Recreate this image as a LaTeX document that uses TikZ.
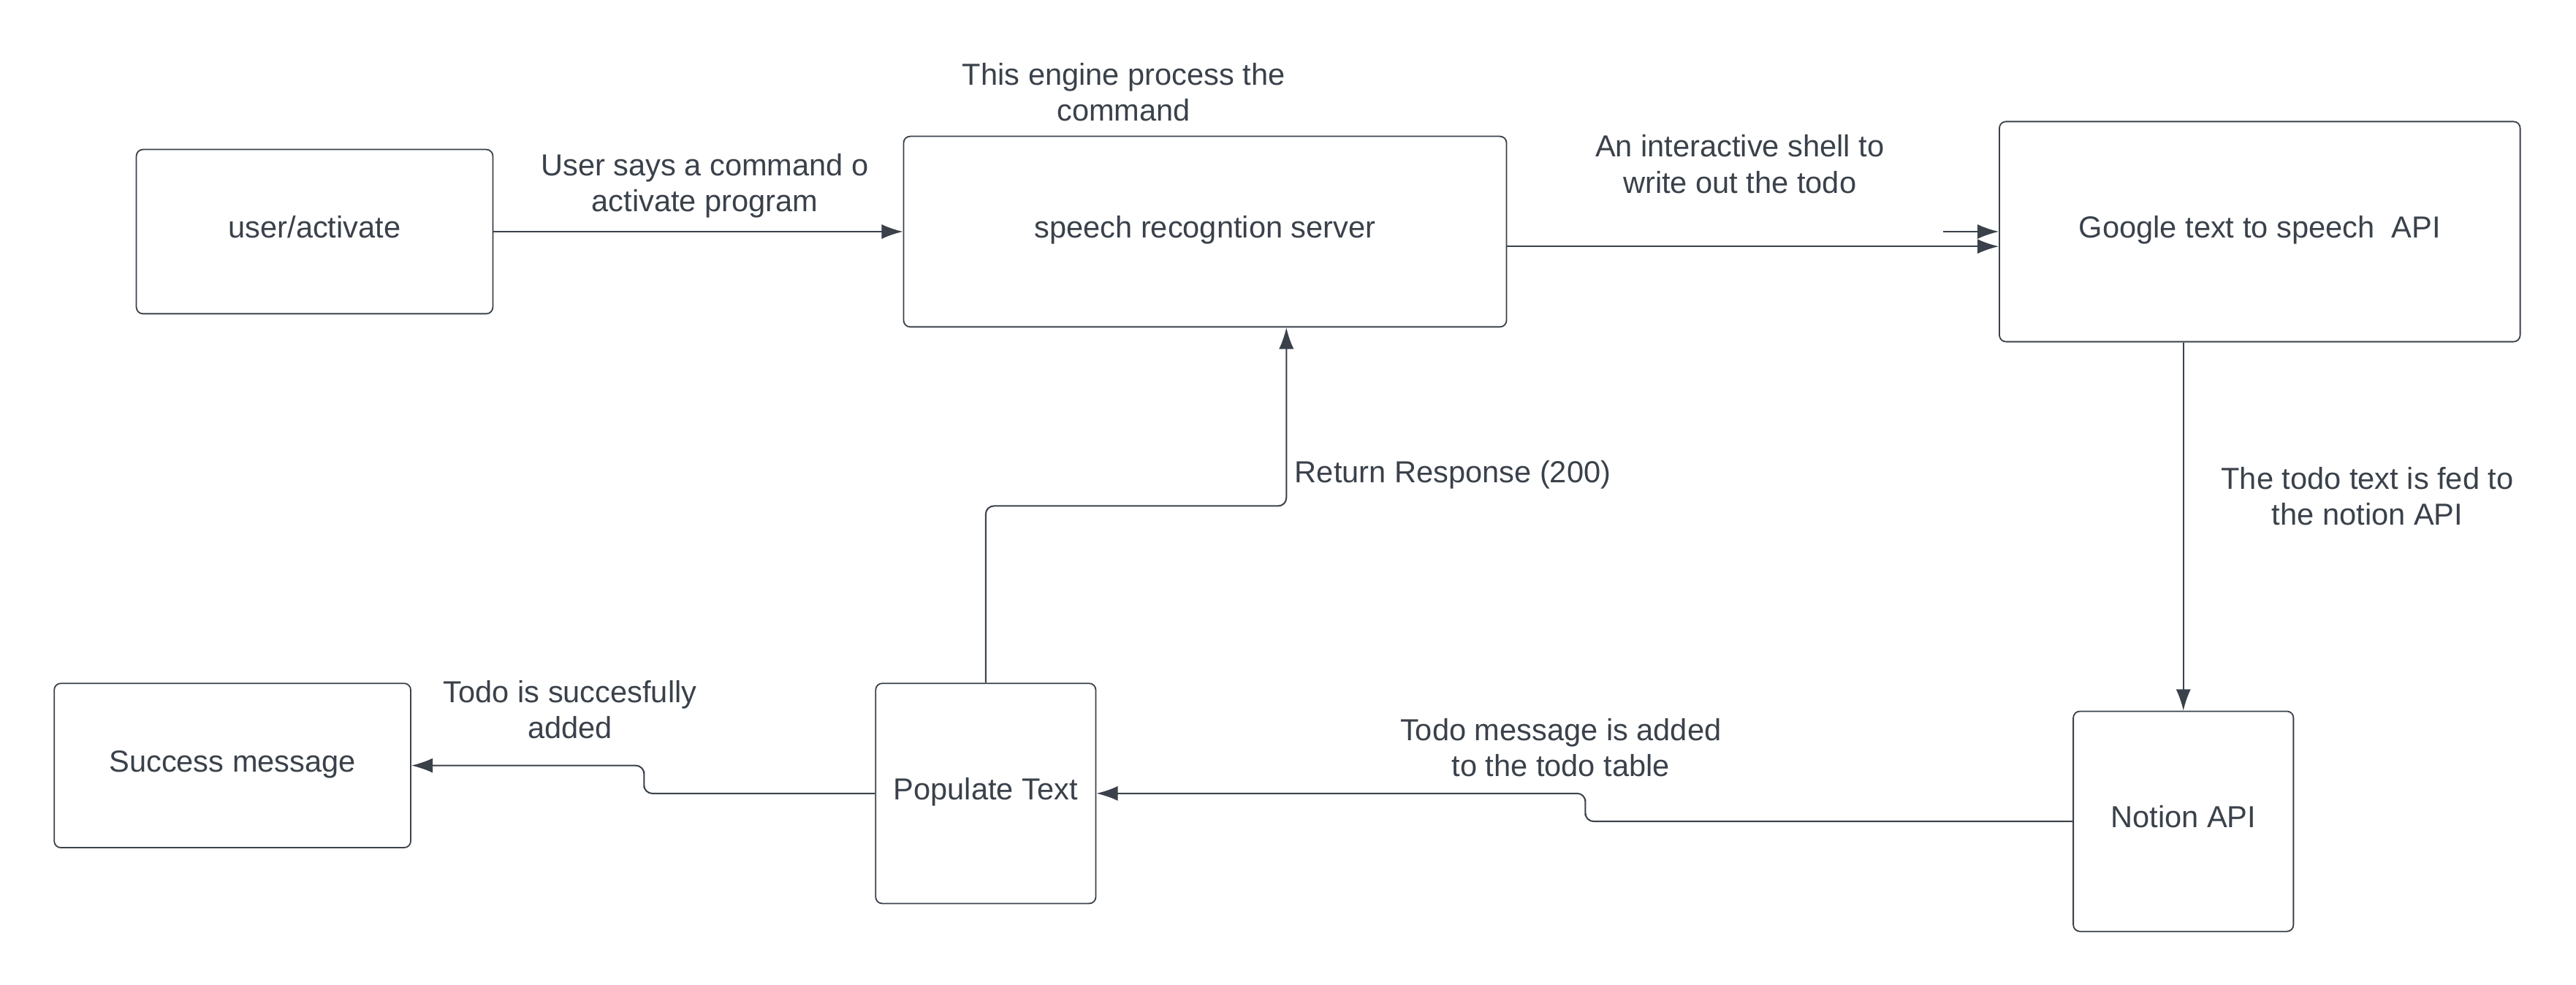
\documentclass[tikz,border=0pt]{standalone}
\usepackage{fontspec}
\setmainfont{Liberation Sans}
\usetikzlibrary{arrows.meta}
\definecolor{ink}{HTML}{3A414A}
\tikzset{
  box/.style={draw=ink, line width=0.8pt, rounded corners=4pt, inner sep=2pt, text=ink,
    text height=13.5pt, text depth=6pt},
  lbl/.style={align=center, text=ink, inner sep=0pt},
  arr/.style={draw=ink, line width=0.9pt, rounded corners=5pt, -{Latex[length=13pt,width=9pt]}}
}
\begin{document}
\begin{tikzpicture}[x=1pt, y=-1pt, font=\fontsize{18.5}{22}\selectfont]
      \useasboundingbox (0,0) rectangle (1568,599.6);
      % boxes
      \node[box, minimum width=217pt, minimum height=100pt] (user) at (191.5,141) {user/activate};
      \node[box, minimum width=367pt, minimum height=116pt] (server) at (733.5,141) {speech recogntion server};
      \node[box, minimum width=317pt, minimum height=134pt] (google) at (1375.5,141) {Google text to speech~~API};
      \node[box, minimum width=217pt, minimum height=100pt] (success) at (141.5,466) {Success message};
      \node[box, minimum width=134pt, minimum height=134pt] (populate) at (600,483) {Populate Text};
      \node[box, minimum width=134pt, minimum height=134pt] (notion) at (1329,500) {Notion API};
      % labels
      \node[lbl] (l0) at (684,56) {This engine process the\\command};
      \node[lbl] (l1) at (429,113) {User says a command o\\activate program};
      \node[lbl] (l2) at (1059,100) {An interactive shell to\\write out the todo};
      \node[lbl, anchor=west] (l3) at (788,289) {Return Response (200)};
      \node[lbl] (l4) at (1441,302) {The todo text is fed to\\the notion API};
      \node[lbl] (l5) at (950,455) {Todo message is added\\to the todo table};
      \node[lbl] (l6) at (347,432) {Todo is succesfully\\added};
      % bends
      \coordinate (k1) at (965,491.5);
      \coordinate (k2) at (392,474.5);
      \coordinate (k3) at (691.5,308);
      \coordinate (stub) at ([xshift=-34pt]google.west);
      % connectors
      \draw[arr] (user) -- (server);
      \draw[arr] ([yshift=-9pt]server.east) -- ([yshift=-9pt]google.west);
      \draw[arr] (stub) -- (google.west);
      \draw[arr] (notion.north |- google.south) -- (notion.north);
      \draw[arr] (notion.west) -| (k1) |- (populate.east);
      \draw[arr] (populate.west) -| (k2) |- (success.east);
      \draw[arr] (populate.north) |- (k3) -| ([xshift=49.5pt]server.south);
    \end{tikzpicture}
\end{document}
